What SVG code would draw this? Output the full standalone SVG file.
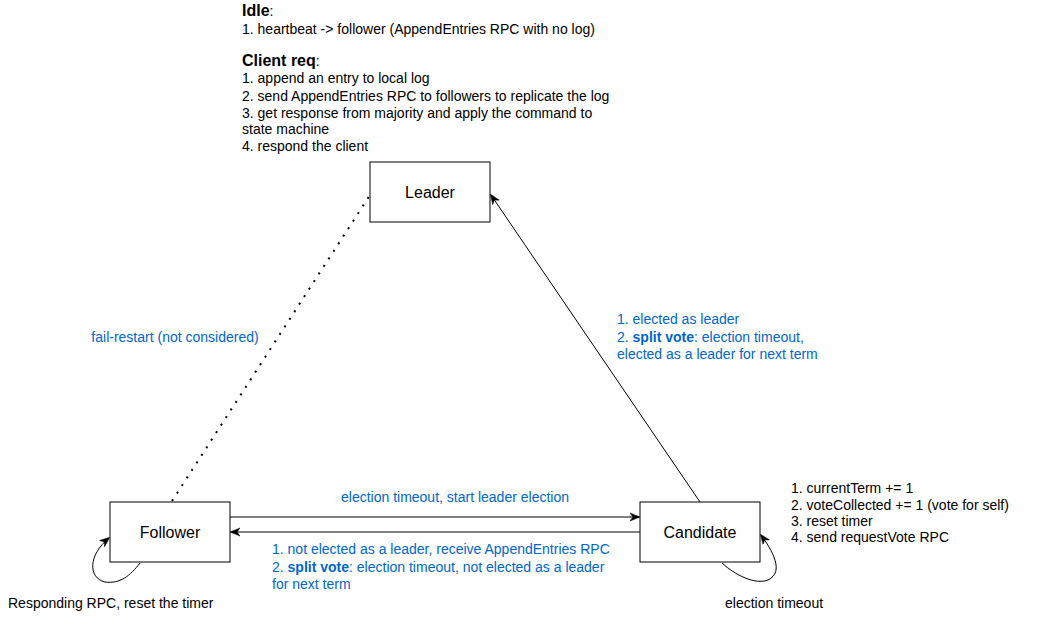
<svg xmlns="http://www.w3.org/2000/svg" width="1061" height="626" viewBox="0 0 1061 626">
<style>
text{font-family:"Liberation Sans",Arial,Helvetica,sans-serif;}
.node rect{fill:#fff;stroke:#000;stroke-width:1;}
.nl{font-size:16px;fill:#000;text-anchor:middle;dominant-baseline:central;}
.t{font-size:14px;fill:#000;}
.h{font-size:16px;font-weight:bold;fill:#000;}
.s{font-size:14px;fill:#000;}
.b{font-size:14px;fill:#0066CC;}
.e{fill:none;stroke:#000;stroke-width:1;}
</style>
<defs>
<marker id="arr" viewBox="0 0 10 10" refX="9" refY="5" markerWidth="10" markerHeight="10" markerUnits="userSpaceOnUse" orient="auto">
<path d="M0,1 L10,5 L0,9 L3,5 Z" fill="#000" stroke="#000" stroke-width="0.5"/>
</marker>
</defs>
<rect width="1061" height="626" fill="#fff"/>
<g id="connectors">
<line class="e" x1="230" y1="517" x2="639" y2="517" marker-end="url(#arr)"/>
<line class="e" x1="640" y1="532" x2="231" y2="532" marker-end="url(#arr)"/>
<line class="e" x1="700" y1="502" x2="491" y2="195" marker-end="url(#arr)"/>
<line x1="172" y1="501" x2="370" y2="195" stroke="#000" stroke-width="2" stroke-dasharray="2 7"/>
<path class="e" d="M140,563 C130,576 120,584 105,582 C88,578 88,555 109,538" marker-end="url(#arr)"/>
<path class="e" d="M722,563 C735,575 755,585 768,580 C785,572 772,550 761,535" marker-end="url(#arr)"/>
</g>
<g id="leader" class="node"><rect x="370" y="162" width="120" height="60"/><text class="nl" x="430" y="192">Leader</text></g>
<g id="follower" class="node"><rect x="110" y="502" width="120" height="60"/><text class="nl" x="170" y="532">Follower</text></g>
<g id="candidate" class="node"><rect x="640" y="502" width="120" height="60"/><text class="nl" x="700" y="532">Candidate</text></g>
<g id="leader-notes">
<text class="h" x="242" y="16">Idle<tspan font-weight="normal" font-size="14px">:</tspan></text>
<text class="t" x="242" y="34">1. heartbeat -&gt; follower (AppendEntries RPC with no log)</text>
<text class="h" x="242" y="66">Client req<tspan font-weight="normal" font-size="14px">:</tspan></text>
<text class="t" x="242" y="83">1. append an entry to local log</text>
<text class="t" x="242" y="101">2. send AppendEntries RPC to followers to replicate the log</text>
<text class="t" x="242" y="118">3. get response from majority and apply the command to</text>
<text class="t" x="242" y="134">state machine</text>
<text class="t" x="242" y="151">4. respond the client</text>
</g>
<g id="labels">
<text class="b" x="175" y="342" text-anchor="middle">fail-restart (not considered)</text>
<text class="b" x="617" y="324">1. elected as leader</text>
<text class="b" x="617" y="342">2. <tspan font-weight="bold">split vote</tspan>: election timeout,</text>
<text class="b" x="617" y="359">elected as a leader for next term</text>
<text class="b" x="455" y="502" text-anchor="middle">election timeout, start leader election</text>
<text class="b" x="272" y="554">1. not elected as a leader, receive AppendEntries RPC</text>
<text class="b" x="272" y="572">2. <tspan font-weight="bold">split vote</tspan>: election timeout, not elected as a leader</text>
<text class="b" x="272" y="589">for next term</text>
<text class="s" x="791" y="493">1. currentTerm += 1</text>
<text class="s" x="791" y="510">2. voteCollected += 1 (vote for self)</text>
<text class="s" x="791" y="526">3. reset timer</text>
<text class="s" x="791" y="542">4. send requestVote RPC</text>
<text class="s" x="8" y="608">Responding RPC, reset the timer</text>
<text class="s" x="725" y="608">election timeout</text>
</g>
</svg>
